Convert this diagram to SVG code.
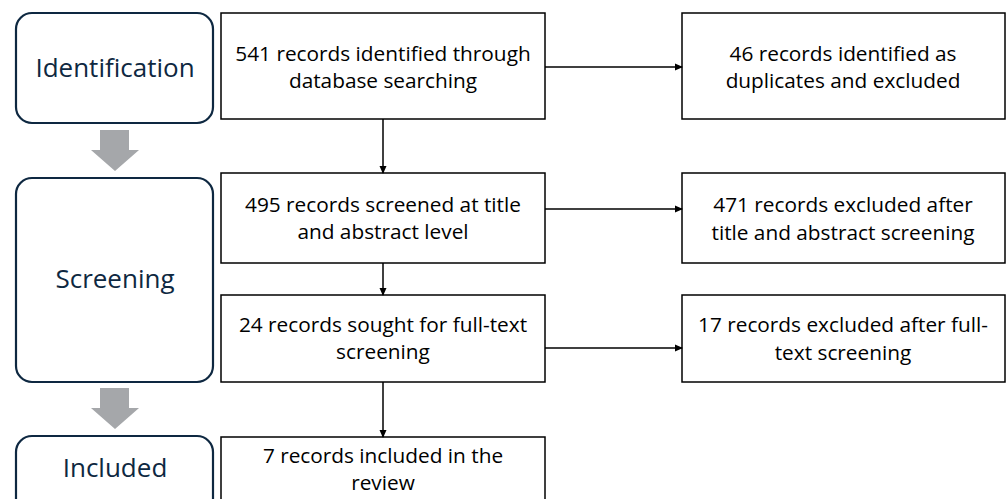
<svg xmlns="http://www.w3.org/2000/svg" width="1007" height="499" viewBox="0 0 1007 499">
  <style>
    .stage { fill: #ffffff; stroke: #0e2841; stroke-width: 2.2; }
    .stage-label { font-family: "Open Sans", "Liberation Sans", sans-serif; font-size: 26px; fill: #0e2841; text-anchor: middle; }
    .box { fill: #ffffff; stroke: #000000; stroke-width: 1.5; }
    .box-text { font-family: "Open Sans", "Liberation Sans", sans-serif; font-size: 20.8px; fill: #000000; text-anchor: middle; }
    .flow { fill: none; stroke: #000000; stroke-width: 1.5; marker-end: url(#head); }
    .stage-arrow { fill: #a5a7aa; }
  </style>
  <defs>
    <marker id="head" markerWidth="8" markerHeight="8" refX="7" refY="4" orient="auto" markerUnits="userSpaceOnUse">
      <path d="M0,0.5 L8,4 L0,7.5 Z" fill="#000000"/>
    </marker>
  </defs>
  <rect width="1007" height="499" fill="#ffffff"/>

  <!-- stage column -->
  <g id="stage-identification">
    <rect class="stage" x="16" y="13" width="197" height="110" rx="16"/>
    <text class="stage-label" x="115" y="77">Identification</text>
  </g>
  <g id="stage-screening">
    <rect class="stage" x="16" y="178" width="197" height="204" rx="16"/>
    <text class="stage-label" x="115" y="288">Screening</text>
  </g>
  <g id="stage-included">
    <rect class="stage" x="16" y="436" width="197" height="90" rx="16"/>
    <text class="stage-label" x="115" y="477">Included</text>
  </g>
  <g id="stage-arrows">
    <path class="stage-arrow" d="M100,130 H129 V150 H139 L115,171 L91,150 H100 Z"/>
    <path class="stage-arrow" d="M100,388 H129 V408 H139 L115,429 L91,408 H100 Z"/>
  </g>

  <!-- record counts -->
  <g id="node-identified">
    <rect class="box" x="221" y="13" width="324" height="106"/>
    <text class="box-text" x="383" y="61">541 records identified through</text>
    <text class="box-text" x="383" y="88">database searching</text>
  </g>
  <g id="node-duplicates">
    <rect class="box" x="682" y="13" width="323" height="106"/>
    <text class="box-text" x="843" y="61">46 records identified as</text>
    <text class="box-text" x="843" y="88">duplicates and excluded</text>
  </g>
  <g id="node-screened">
    <rect class="box" x="221" y="173" width="324" height="90"/>
    <text class="box-text" x="383" y="212">495 records screened at title</text>
    <text class="box-text" x="383" y="239">and abstract level</text>
  </g>
  <g id="node-excluded-abstract">
    <rect class="box" x="682" y="173" width="323" height="90"/>
    <text class="box-text" x="843" y="212">471 records excluded after</text>
    <text class="box-text" x="843" y="240">title and abstract screening</text>
  </g>
  <g id="node-fulltext">
    <rect class="box" x="221" y="295" width="324" height="87"/>
    <text class="box-text" x="383" y="332">24 records sought for full-text</text>
    <text class="box-text" x="383" y="359">screening</text>
  </g>
  <g id="node-excluded-fulltext">
    <rect class="box" x="682" y="295" width="323" height="87"/>
    <text class="box-text" x="843" y="332">17 records excluded after full-</text>
    <text class="box-text" x="843" y="360">text screening</text>
  </g>
  <g id="node-included">
    <rect class="box" x="221" y="437" width="324" height="90"/>
    <text class="box-text" x="383" y="463">7 records included in the</text>
    <text class="box-text" x="383" y="490">review</text>
  </g>

  <!-- connectors -->
  <g id="connectors">
    <line class="flow" x1="545" y1="67" x2="682" y2="67"/>
    <line class="flow" x1="383" y1="119" x2="383" y2="173"/>
    <line class="flow" x1="545" y1="209" x2="682" y2="209"/>
    <line class="flow" x1="383" y1="263" x2="383" y2="295"/>
    <line class="flow" x1="545" y1="348" x2="682" y2="348"/>
    <line class="flow" x1="383" y1="382" x2="383" y2="437"/>
  </g>
</svg>
